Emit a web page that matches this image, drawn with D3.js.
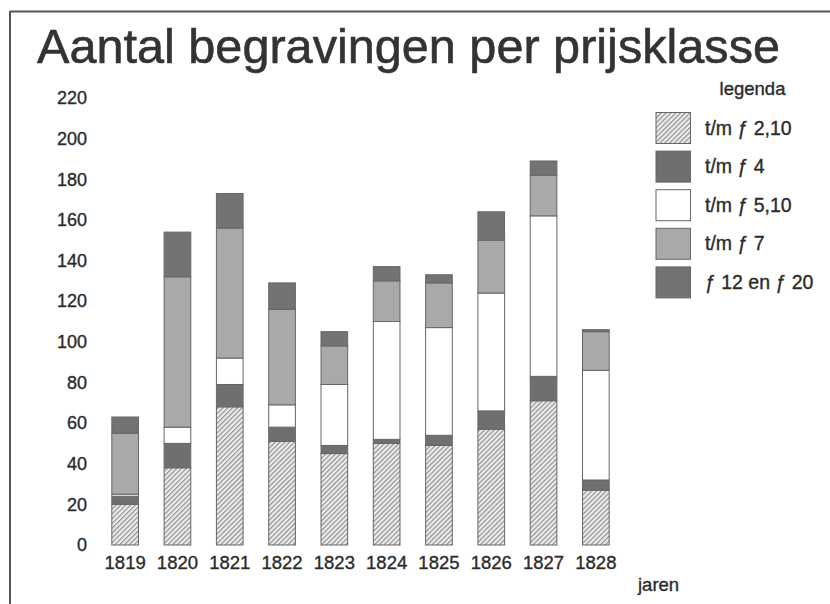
<!DOCTYPE html>
<html><head><meta charset="utf-8">
<script src="https://cdn.jsdelivr.net/npm/d3@7"></script>
<style>
html,body{margin:0;padding:0;background:#fff;}
svg{display:block;font-family:"Liberation Sans",Arial,Helvetica,sans-serif;}
</style></head>
<body>
<svg id="c" width="830" height="604"></svg>
<script>
const title = "Aantal begravingen per prijsklasse";
const years = ["1819","1820","1821","1822","1823","1824","1825","1826","1827","1828"];
const seriesNames = ["t/m ƒ 2,10","t/m ƒ 4","t/m ƒ 5,10","t/m ƒ 7","ƒ 12 en ƒ 20"];
const s210  = [20,38,68,51,45,50,49,57,71,27];
const s4    = [4,12,11,7,4,2,5,9,12,5];
const s510  = [1,8,13,11,30,58,53,58,79,54];
const s7    = [30,74,64,47,19,20,22,26,20,19];
const s1220 = [8,22,17,13,7,7,4,14,7,1];
const yTicks = [0,20,40,60,80,100,120,140,160,180,200,220];

const fills = ["url(#hatch)","#6f6f6f","#ffffff","#a9a9a9","#737373"];
const seriesVals = [s210,s4,s510,s7,s1220];

const table = years.map((y,i)=>{
  const o={year:y};
  seriesVals.forEach((s,k)=>o["k"+k]=s[i]);
  return o;
});
const keys = seriesVals.map((s,k)=>"k"+k);
const stacked = d3.stack().keys(keys)(table);

const svg = d3.select("#c");
const defs = svg.append("defs");
const pat = defs.append("pattern").attr("id","hatch").attr("patternUnits","userSpaceOnUse")
  .attr("width",3.4).attr("height",3.4).attr("patternTransform","rotate(45)");
pat.append("rect").attr("width",3.4).attr("height",3.4).attr("fill","#ececec");
pat.append("line").attr("x1",0.6).attr("y1",0).attr("x2",0.6).attr("y2",3.4)
  .attr("stroke","#8a8a8a").attr("stroke-width",1.1);

const txtCol = "#2b2b2b";
const heavy = sel => sel.attr("stroke",txtCol).attr("stroke-width",0.35).attr("fill",txtCol);

// frame
svg.append("line").attr("x1",10).attr("y1",11.5).attr("x2",830).attr("y2",11.5).attr("stroke","#555").attr("stroke-width",2);
svg.append("line").attr("x1",10).attr("y1",11).attr("x2",10).attr("y2",604).attr("stroke","#555").attr("stroke-width",2);

svg.append("text").attr("x",37).attr("y",63).attr("font-size",48).attr("fill","#333")
  .attr("stroke","#333").attr("stroke-width",0.6)
  .attr("textLength",743).attr("lengthAdjust","spacingAndGlyphs").text(title);

const x = d3.scaleBand().domain(years).range([99,622]).paddingInner(0.49).paddingOuter(0.245);
const y = d3.scaleLinear().domain([0,220]).range([545,98]);

const yAxis = svg.append("g").attr("transform","translate(87,0)")
  .call(d3.axisLeft(y).tickValues(yTicks).tickSize(0).tickPadding(0));
yAxis.select(".domain").remove();
yAxis.selectAll("text").attr("font-size",18).attr("font-family","Liberation Sans, Arial, sans-serif").call(heavy);

const xAxis = svg.append("g").attr("transform","translate(0,553)")
  .call(d3.axisBottom(x).tickSize(0).tickPadding(3));
xAxis.select(".domain").remove();
xAxis.selectAll("text").attr("font-size",18.5).attr("font-family","Liberation Sans, Arial, sans-serif").call(heavy);

svg.append("text").attr("x",638).attr("y",591).attr("font-size",18.5).call(heavy).text("jaren");

const groups = svg.append("g").selectAll("g").data(stacked).join("g")
  .attr("fill",(d,i)=>fills[i]);
groups.selectAll("rect").data(d=>d).join("rect")
  .attr("x",d=>x(d.data.year))
  .attr("width",x.bandwidth())
  .attr("y",d=>y(d[1]))
  .attr("height",d=>y(d[0])-y(d[1]))
  .attr("stroke","#666").attr("stroke-width",1);

// legend
svg.append("text").attr("x",752.5).attr("y",95).attr("text-anchor","middle").attr("font-size",18.5).call(heavy).text("legenda");
const lg = svg.append("g").selectAll("g").data(seriesNames).join("g")
  .attr("transform",(d,i)=>`translate(656,${112.5+i*38.6})`);
lg.append("rect").attr("width",34.5).attr("height",31).attr("fill",(d,i)=>fills[i]).attr("stroke","#666").attr("stroke-width",1);
lg.append("text").attr("x",49).attr("y",22).attr("font-size",19.5).call(heavy).text(d=>d);
</script>
</body></html>
